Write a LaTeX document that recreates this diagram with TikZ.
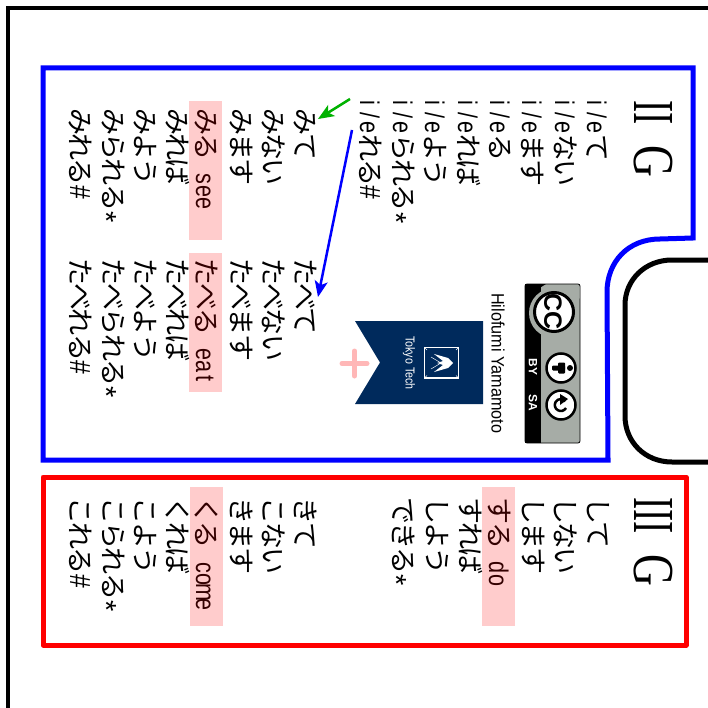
\documentclass[tikz,border=0pt]{standalone}
\usepackage{fontspec}
\newfontfamily\jp[LetterSpace=-6.3]{Noto Sans CJK JP}
\newfontfamily\la{Liberation Sans}
\newfontfamily\ro{Liberation Serif}
\usetikzlibrary{arrows.meta}
\newcommand\hw[1]{\makebox[12.3pt][c]{\fontsize{27pt}{27pt}\la\scalebox{.8}[1]{#1}}}
\newcommand\hash{\makebox[12.3pt][c]{\fontsize{29pt}{29pt}\la\scalebox{.85}[1]{\#}}}
\newcommand\astk{\makebox[12.3pt][c]{\raisebox{-7pt}{\fontsize{29pt}{29pt}\la *}}}
\newcommand\ie{\hw{i}\hw{/}\hw{e}}
\newcommand\tcol[4]{\node[jtext] (#1) at (#2,#3) {#4};}
\definecolor{ttblue}{HTML}{002A5C}
\definecolor{ccgray}{HTML}{A6ACA6}
\tikzset{
  jtext/.style={rotate=-90,anchor=west,inner sep=0pt,text height=24pt,text depth=4pt,font=\fontsize{27pt}{27pt}\jp},
  headtxt/.style={rotate=-90,anchor=west,inner sep=0pt,font=\fontsize{58pt}{58pt}\ro},
  pinkbar/.style={fill=red,opacity=.2,draw=none},
  frameline/.style={line width=3.5pt,line join=miter},
  box/.style={line width=5pt,line join=round},
  arr/.style={line width=2.5pt,-{Stealth[length=16pt,width=13pt,inset=4pt]}}
}
\begin{document}
\begin{tikzpicture}[x=1pt,y=-1pt]
\useasboundingbox (0,0) rectangle (708,708);
\fill[white] (0,0) rectangle (708,708);
% frames
\draw[frameline] (708,8) -- (8,8) -- (8,708);
\draw[box,blue,line join=miter] (43,68) -- (693,68) -- (693,238) -- (660,239) .. controls (628,239) and (607,262) .. (607,292) -- (608,460) -- (43,460) -- cycle;
\draw[box,red] (43,477) -- (686,477) -- (686,645) -- (43,645) -- cycle;
\draw[box,black] (708,260) -- (672,260) .. controls (645,260) and (625,280) .. (625,305) -- (625,416) .. controls (625,442) and (645,462) .. (672,462) -- (708,462);
% headings
\node[headtxt] (h2) at (653,100) {\scalebox{.63}[1]{II}\hspace{21pt}\scalebox{.76}[1]{G}};
\node[headtxt] (h3) at (653,497) {\scalebox{.63}[1]{III}\hspace{21pt}\scalebox{.76}[1]{G}};
% group II i/e
\tcol{a1}{597}{97}{\ie て}
\tcol{a2}{565}{97}{\ie ない}
\tcol{a3}{532}{97}{\ie ます}
\tcol{a4}{500}{97}{\ie る}
\tcol{a5}{468}{97}{\ie れば}
\tcol{a6}{435}{97}{\ie よう}
\tcol{a7}{403}{97}{\ie られる\astk}
\tcol{a8}{370}{97}{\ie れる\hash}
% miru
\tcol{b1}{305}{108}{みて}
\tcol{b2}{273}{108}{みない}
\tcol{b3}{241}{108}{みます}
\tcol{b4}{206}{108}{みる\hw{\ }\hw{s}\hw{e}\hw{e}}
\tcol{b5}{177}{108}{みれば}
\tcol{b6}{145}{108}{みよう}
\tcol{b7}{113}{108}{みられる\astk}
\tcol{b8}{80}{108}{みれる\hash}
% taberu
\tcol{c1}{305}{258}{たべて}
\tcol{c2}{273}{258}{たべない}
\tcol{c3}{241}{258}{たべます}
\tcol{c4}{206}{258}{たべる\hw{\ }\hw{e}\hw{a}\hw{t}}
\tcol{c5}{177}{258}{たべれば}
\tcol{c6}{145}{258}{たべよう}
\tcol{c7}{113}{258}{たべられる\astk}
\tcol{c8}{80}{258}{たべれる\hash}
% suru
\tcol{d1}{598}{497}{して}
\tcol{d2}{565}{497}{しない}
\tcol{d3}{533}{497}{します}
\tcol{d4}{499}{497}{する\hw{\ }\hw{d}\hw{o}}
\tcol{d5}{470}{497}{すれば}
\tcol{d6}{437}{497}{しよう}
\tcol{d7}{403}{497}{できる\astk}
% kuru
\tcol{e1}{305}{497}{きて}
\tcol{e2}{273}{497}{こない}
\tcol{e3}{241}{497}{きます}
\tcol{e4}{206}{497}{くる\hw{\ }\hw{c}\hw{o}\hw{m}\hw{e}}
\tcol{e5}{177}{497}{くれば}
\tcol{e6}{145}{497}{こよう}
\tcol{e7}{113}{497}{こられる\astk}
\tcol{e8}{80}{497}{これる\hash}
% pink bars
\fill[pinkbar] (189,101) rectangle (222,240);
\fill[pinkbar] (189,253) rectangle (222,392);
\fill[pinkbar] (190,487) rectangle (223,626);
\fill[pinkbar] (482,487) rectangle (515,626);
% arrows
\coordinate (gs) at (350,99);
\coordinate (gt) at (318,119);
\coordinate (bs) at (352,130);
\coordinate (bt) at (318,297);
\draw[arr,green!70!black] (gs) -- (gt);
\draw[arr,blue] (bs) -- (bt);
% author
\node[rotate=-90,anchor=west,inner sep=0pt,font=\fontsize{18pt}{18pt}\la] (auth) at (498,293) {\scalebox{.9}[1]{Hilofumi Yamamoto}};
% CC badge
\fill[ccgray,draw=black,line width=.8pt,rounded corners=2pt] (525,284) rectangle (580,443);
\fill[black] (525,284) rectangle (541,443);
\fill[ccgray] (554,313) circle (25);
\fill[ccgray,rounded corners=2pt] (550,285) rectangle (579.5,300);
\fill[black] (525,284) -- (546,284) -- (533,292) -- (527,305) -- (525,305) -- cycle;
\draw[line width=3pt,fill=white] (554,312) circle (19.5);
\node[rotate=-90,font=\fontsize{25pt}{25pt}\la\bfseries,inner sep=0pt] (cc) at (553,312) {CC};
\node[rotate=-90,font=\fontsize{12pt}{12pt}\la\bfseries,inner sep=0pt,white] (by) at (533,367) {BY};
\node[rotate=-90,font=\fontsize{12pt}{12pt}\la\bfseries,inner sep=0pt,white] (sa) at (533,403) {SA};
\draw[line width=2.5pt,fill=white] (561,368) circle (14.5);
\draw[line width=2.5pt,fill=white] (561,405) circle (14.5);
% person
\fill (570,368) circle (3);
\fill[rounded corners=1pt] (552,365.5) rectangle (565,370.5);
\fill[rounded corners=1pt] (558,362.5) rectangle (565,373.5);
% SA arrow
\draw[line width=2.5pt] (566,408) arc[start angle=30,end angle=320,radius=6];
\fill (560,394) -- (568,399) -- (560,405) -- cycle;
% banner
\fill[ttblue] (355,321) -- (483,321) -- (483,404) -- (355,404) -- (380,362.5) -- cycle;
\node[rotate=-90,white,inner sep=0pt,font=\fontsize{13pt}{13pt}\la] (tt) at (409,363) {\scalebox{.82}[1]{Tokyo Tech}};
\draw[white,line width=1.4pt] (424.5,347.5) rectangle (458.5,378);
\draw[white,line width=.5pt] (427,350) -- (424.5,347.5) (456,350) -- (458.5,347.5) (456,375.5) -- (458.5,378) (427,375.5) -- (424.5,378);
% swallow
\fill[white] (453,363) -- (448,358) -- (434,354) -- (443,361) -- (437,363) -- (443,365) -- (434,372) -- (448,368) -- cycle;
\draw[white,line width=.5pt] (431,357) -- (441,363) -- (431,369);
% plus
\draw[red!80!white,opacity=.35,line width=5pt,line cap=round] (342,363.5) -- (367,363.5) (354.5,351) -- (354.5,376);
\end{tikzpicture}
\end{document}
